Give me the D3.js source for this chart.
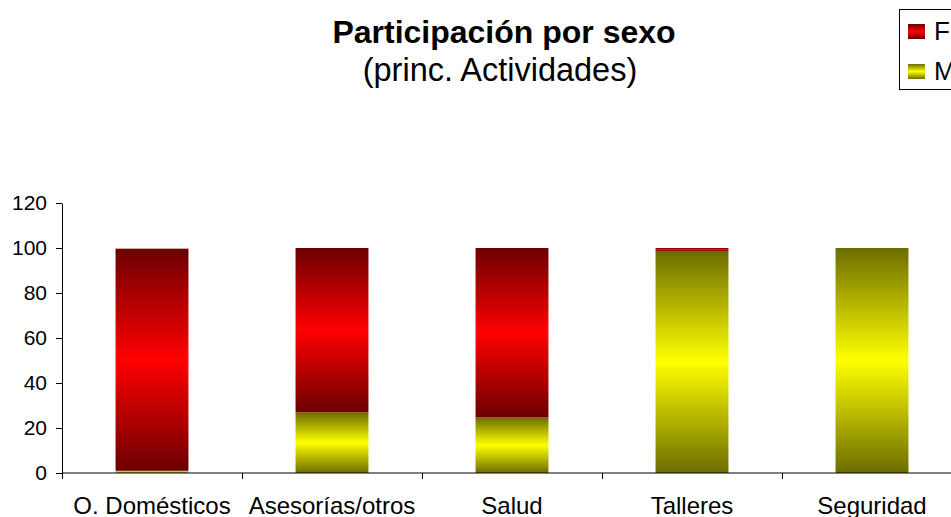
<!DOCTYPE html>
<html>
<head>
<meta charset="utf-8">
<script src="https://cdn.jsdelivr.net/npm/d3@7"></script>
<style>
  html, body { margin: 0; padding: 0; background: #fff; overflow: hidden; }
  svg { display: block; font-family: "Liberation Sans", Arial, sans-serif; }
  .domain, .tick line { stroke: #000; }
</style>
</head>
<body>
<svg id="chart" width="951" height="517"></svg>
<script>
// data
const categories = ["O. Domésticos", "Asesorías/otros", "Salud", "Talleres", "Seguridad"];
const valuesF = [98.7, 73, 75.3, 1.3, 0];
const valuesM = [1, 27, 24.7, 98.7, 100];
const seriesKeys = ["M", "F"];           // stacking order, bottom first
const legendKeys = ["F", "M"];
const yTicks = [0, 20, 40, 60, 80, 100, 120];
const title = "Participación por sexo";
const subtitle = "(princ. Actividades)";

const width = 951;
const height = 517;
const margin = { top: 203, bottom: 44, left: 62, right: -11 };

const svg = d3.select("#chart");

// gradients: dark at the edges, bright in the middle
const colors = {
  F: { dark: "#6c0000", light: "#ff0000" },
  M: { dark: "#6c6c00", light: "#ffff00" }
};
const defs = svg.append("defs");
Object.keys(colors).forEach(k => {
  const grad = defs.append("linearGradient")
    .attr("id", "grad-" + k)
    .attr("x1", 0).attr("y1", 0)
    .attr("x2", 0).attr("y2", 1);
  grad.append("stop").attr("offset", "0%").attr("stop-color", colors[k].dark);
  grad.append("stop").attr("offset", "50%").attr("stop-color", colors[k].light);
  grad.append("stop").attr("offset", "100%").attr("stop-color", colors[k].dark);
});

const data = categories.map((c, i) => ({ cat: c, F: valuesF[i], M: valuesM[i] }));
const stacked = d3.stack().keys(seriesKeys)(data);

const xScale = d3.scaleBand()
  .domain(categories)
  .range([margin.left, width - margin.right])
  .paddingInner(0.595)
  .paddingOuter(0.2975);

const yScale = d3.scaleLinear()
  .domain([0, 120])
  .range([height - margin.bottom, margin.top]);

// bars
svg.append("g")
  .selectAll("g")
  .data(stacked)
  .enter()
  .append("g")
  .attr("fill", d => `url(#grad-${d.key})`)
  .selectAll("rect")
  .data(d => d)
  .enter()
  .append("rect")
  .attr("x", d => xScale(d.data.cat))
  .attr("width", xScale.bandwidth())
  .attr("y", d => yScale(d[1]))
  .attr("height", d => yScale(d[0]) - yScale(d[1]));

// y axis
const yAxisG = svg.append("g")
  .attr("transform", `translate(${margin.left},0)`)
  .call(d3.axisLeft(yScale).tickValues(yTicks).tickSize(6).tickPadding(9).tickSizeOuter(0));
yAxisG.selectAll("text")
  .attr("font-size", 21)
  .attr("fill", "#000")
  .attr("font-family", "Liberation Sans, Arial, sans-serif");

// x axis: ticks sit on the band boundaries
const xAxisG = svg.append("g")
  .attr("transform", `translate(0,${height - margin.bottom})`);
xAxisG.append("line")
  .attr("x1", margin.left).attr("x2", width - margin.right)
  .attr("stroke", "#000");
xAxisG.selectAll(".bound")
  .data(categories)
  .enter()
  .append("line")
  .attr("class", "bound")
  .attr("x1", d => xScale(d) - xScale.step() * xScale.paddingOuter() + 0.5)
  .attr("x2", d => xScale(d) - xScale.step() * xScale.paddingOuter() + 0.5)
  .attr("y1", 0).attr("y2", 6)
  .attr("stroke", "#000");
xAxisG.selectAll(".cat")
  .data(categories)
  .enter()
  .append("text")
  .attr("class", "cat")
  .attr("x", d => xScale(d) + xScale.bandwidth() / 2)
  .attr("y", 41)
  .attr("text-anchor", "middle")
  .attr("font-size", 24)
  .text(d => d);

// titles
svg.append("text")
  .attr("x", 504).attr("y", 43)
  .attr("text-anchor", "middle")
  .attr("font-size", 32)
  .attr("font-weight", "bold")
  .text(title);
svg.append("text")
  .attr("x", 500).attr("y", 81)
  .attr("text-anchor", "middle")
  .attr("font-size", 32.5)
  .text(subtitle);

// legend
const legend = svg.append("g");
legend.append("rect")
  .attr("x", 899.5).attr("y", 9.5)
  .attr("width", 70).attr("height", 80)
  .attr("fill", "#fff")
  .attr("stroke", "#000");
const legendItem = legend.selectAll(".item")
  .data(legendKeys)
  .enter()
  .append("g")
  .attr("transform", (d, i) => `translate(908,${24 + i * 40})`);
legendItem.append("rect")
  .attr("width", 17).attr("height", 15)
  .attr("fill", d => `url(#grad-${d})`);
legendItem.append("text")
  .attr("x", 26).attr("y", 16)
  .attr("font-size", 26)
  .text(d => d);
</script>
</body>
</html>
